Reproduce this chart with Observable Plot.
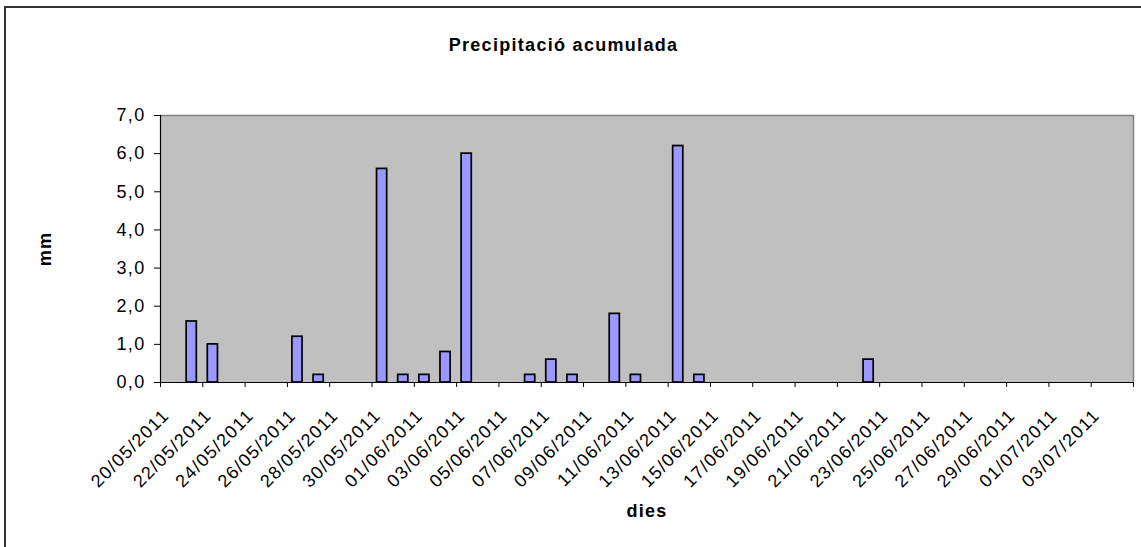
<!DOCTYPE html>
<html>
<head>
<meta charset="utf-8">
<script src="https://cdn.jsdelivr.net/npm/d3@7"></script>
<script src="https://cdn.jsdelivr.net/npm/@observablehq/plot@0.6"></script>
<style>
  html, body { margin: 0; padding: 0; background: white; overflow: hidden; }
  #wrap { position: relative; width: 1141px; height: 547px; }
  #border { position: absolute; left: 4px; top: 6px; width: 1160px; height: 560px;
            border-left: 2px solid #333; border-top: 2px solid #333; pointer-events: none; }
  #chart svg text { font-family: "Liberation Sans", Arial, sans-serif; letter-spacing: 1.3px; }
</style>
</head>
<body>
<div id="wrap"><div id="chart"></div><div id="border"></div></div>
<script>
// Categories: one per day
const dies = [
  "20/05/2011","21/05/2011","22/05/2011","23/05/2011","24/05/2011","25/05/2011",
  "26/05/2011","27/05/2011","28/05/2011","29/05/2011","30/05/2011","31/05/2011",
  "01/06/2011","02/06/2011","03/06/2011","04/06/2011","05/06/2011","06/06/2011",
  "07/06/2011","08/06/2011","09/06/2011","10/06/2011","11/06/2011","12/06/2011",
  "13/06/2011","14/06/2011","15/06/2011","16/06/2011","17/06/2011","18/06/2011",
  "19/06/2011","20/06/2011","21/06/2011","22/06/2011","23/06/2011","24/06/2011",
  "25/06/2011","26/06/2011","27/06/2011","28/06/2011","29/06/2011","30/06/2011",
  "01/07/2011","02/07/2011","03/07/2011","04/07/2011"
];
// Precipitació acumulada (mm)
const precipitacio = [
  0, 1.6, 1.0, 0, 0, 0, 1.2, 0.2, 0, 0, 5.6, 0.2,
  0.2, 0.8, 6.0, 0, 0, 0.2, 0.6, 0.2, 0, 1.8, 0.2, 0,
  6.2, 0.2, 0, 0, 0, 0, 0, 0, 0, 0.6, 0, 0,
  0, 0, 0, 0, 0, 0, 0, 0, 0, 0
];
// Tick labels on the x axis (every two days)
const etiquetesX = [
  "20/05/2011","22/05/2011","24/05/2011","26/05/2011","28/05/2011","30/05/2011",
  "01/06/2011","03/06/2011","05/06/2011","07/06/2011","09/06/2011","11/06/2011",
  "13/06/2011","15/06/2011","17/06/2011","19/06/2011","21/06/2011","23/06/2011",
  "25/06/2011","27/06/2011","29/06/2011","01/07/2011","03/07/2011"
];
const yTicks = [0, 1, 2, 3, 4, 5, 6, 7];

const parse = d3.utcParse("%d/%m/%Y");
const data = dies.map((d, i) => ({date: parse(d), mm: precipitacio[i]})).filter(d => d.mm > 0);
const start = parse(dies[0]);
const end = d3.utcDay.offset(parse(dies[dies.length - 1]), 1);
const tickDates = d3.utcDay.range(start, d3.utcDay.offset(end, 1), 2);
const fmt = d => d.toFixed(1).replace(".", ",");

const chart = Plot.plot({
  width: 1141,
  height: 547,
  marginLeft: 160,
  marginRight: 8,
  marginTop: 115,
  marginBottom: 165,
  x: {type: "utc", domain: [start, end]},
  y: {domain: [0, 7]},
  marks: [
    Plot.frame({fill: "#C0C0C0", stroke: null}),
    Plot.ruleY([7], {stroke: "#808080", strokeWidth: 1.5}),
    Plot.ruleX([end], {stroke: "#808080", strokeWidth: 1.5}),
    Plot.rectY(data, {
      x1: "date",
      x2: d => d3.utcDay.offset(d.date, 1),
      y: "mm",
      insetLeft: 5,
      insetRight: 6,
      fill: "#9999FF",
      stroke: "black",
      strokeWidth: 1.7
    }),
    Plot.ruleY([0], {stroke: "black", strokeWidth: 1.2}),
    Plot.ruleX([start], {stroke: "black", strokeWidth: 1.2}),
    Plot.axisY({ticks: yTicks, tickFormat: fmt, tickSize: 6, tickPadding: 9, label: null, fontSize: 18, stroke: "black"}),
    Plot.axisX({ticks: tickDates, tickFormat: () => "", tickSize: 5, label: null, stroke: "black"}),
    Plot.text(etiquetesX, {
      x: d => d3.utcHour.offset(parse(d), 12),
      text: d => d,
      frameAnchor: "bottom",
      rotate: -45,
      textAnchor: "end",
      lineAnchor: "middle",
      dx: -5,
      dy: 30,
      fontSize: 18,
      fill: "black"
    }),
    Plot.text(["Precipitació acumulada"], {
      frameAnchor: "top-left", dx: 403, dy: -70,
      textAnchor: "middle", lineAnchor: "middle",
      fontWeight: "bold", fontSize: 18, fill: "black"
    }),
    Plot.text(["mm"], {
      frameAnchor: "left", dx: -115, rotate: -90,
      textAnchor: "middle", lineAnchor: "middle",
      fontWeight: "bold", fontSize: 18, fill: "black"
    }),
    Plot.text(["dies"], {
      frameAnchor: "bottom", dy: 129,
      textAnchor: "middle", lineAnchor: "middle",
      fontWeight: "bold", fontSize: 18, fill: "black"
    })
  ]
});
document.getElementById("chart").appendChild(chart);
</script>
</body>
</html>
